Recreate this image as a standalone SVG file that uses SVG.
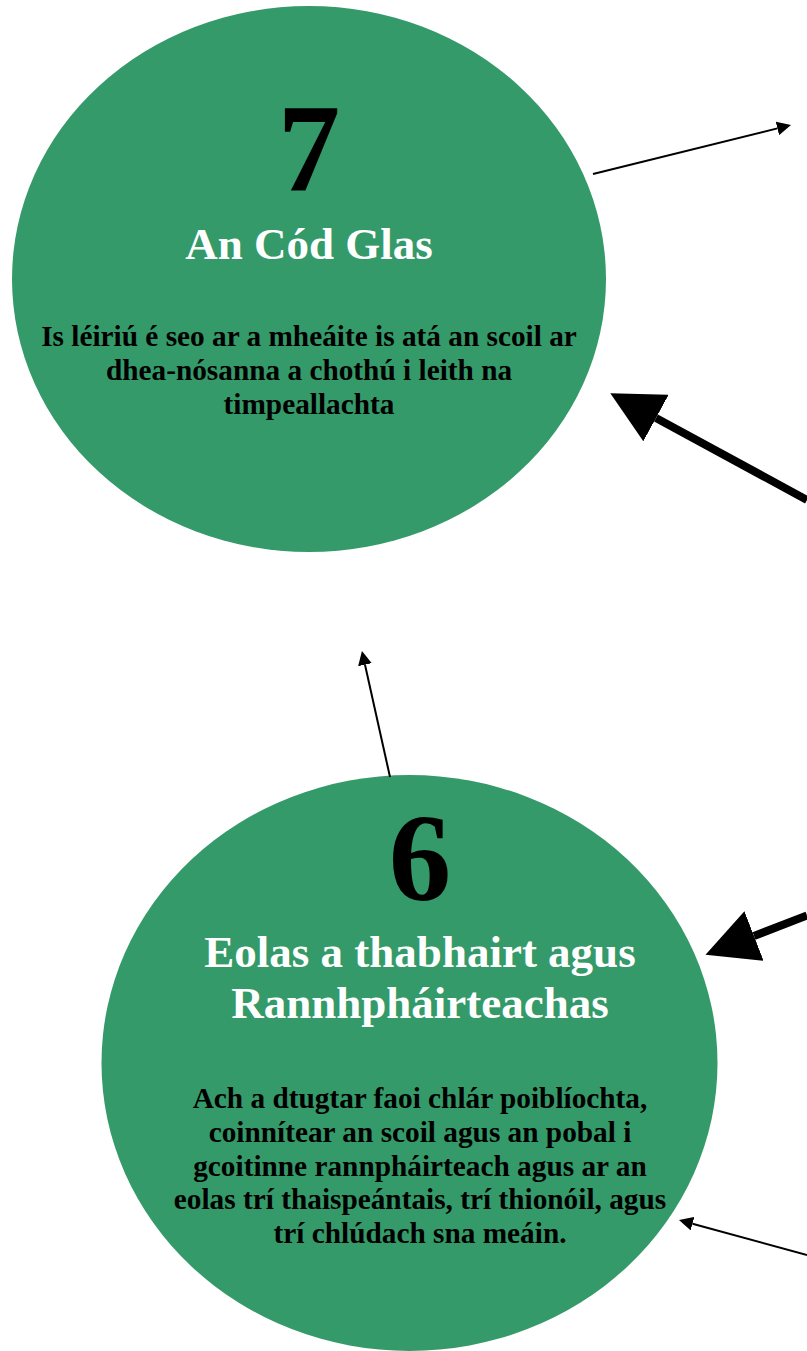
<svg xmlns="http://www.w3.org/2000/svg" width="807" height="1351" viewBox="0 0 807 1351">
<style>
.node{fill:#359A69}
text{font-family:"Liberation Serif","Times New Roman",serif;font-weight:bold;text-anchor:middle}
.num{font-size:125px;fill:#000}
.title{font-size:45px;fill:#fff}
.body{font-size:29.3px;fill:#000}
.thin{stroke:#000;stroke-width:2;fill:none}
.thick{stroke:#000;stroke-width:8;fill:none}
</style>
<defs>
<marker id="ah-s" viewBox="0 0 14 14" refX="0" refY="7" markerWidth="14" markerHeight="14" markerUnits="userSpaceOnUse" orient="auto"><path d="M0,0 L14,7 L0,14 z" fill="#000"/></marker>
<marker id="ah-l" viewBox="0 0 52 53" refX="0" refY="26.5" markerWidth="52" markerHeight="53" markerUnits="userSpaceOnUse" orient="auto"><path d="M0,0 L52,26.5 L0,53 z" fill="#000"/></marker>
</defs>
<g id="node7">
<ellipse class="node" cx="309" cy="279" rx="297" ry="273"/>
<text class="num" x="309" y="190">7</text>
<text class="title" x="309" y="259">An Cód Glas</text>
<text class="body" x="309" y="346">Is léiriú é seo ar a mheáite is atá an scoil ar</text>
<text class="body" x="309" y="380">dhea-nósanna a chothú i leith na</text>
<text class="body" x="309" y="414">timpeallachta</text>
</g>
<g id="node6">
<ellipse class="node" cx="409.5" cy="1063" rx="308" ry="288"/>
<text class="num" x="420" y="900">6</text>
<text class="title" x="420" y="967">Eolas a thabhairt agus</text>
<text class="title" x="420" y="1018">Rannhpháirteachas</text>
<text class="body" x="420" y="1108">Ach a dtugtar faoi chlár poiblíochta,</text>
<text class="body" x="420" y="1142">coinnítear an scoil agus an pobal i</text>
<text class="body" x="420" y="1176">gcoitinne rannpháirteach agus ar an</text>
<text class="body" x="420" y="1209">eolas trí thaispeántais, trí thionóil, agus</text>
<text class="body" x="420" y="1243">trí chlúdach sna meáin.</text>
</g>
<g id="connectors">
<line class="thin" x1="593" y1="174" x2="777.4" y2="128.4" marker-end="url(#ah-s)"/>
<line class="thick" x1="807" y1="500" x2="656" y2="418" marker-end="url(#ah-l)"/>
<line class="thin" x1="390" y1="777" x2="365" y2="664.7" marker-end="url(#ah-s)"/>
<line class="thick" x1="807" y1="915.5" x2="754" y2="936" marker-end="url(#ah-l)"/>
<line class="thin" x1="807" y1="1255" x2="692.5" y2="1223.7" marker-end="url(#ah-s)"/>
</g>
</svg>
